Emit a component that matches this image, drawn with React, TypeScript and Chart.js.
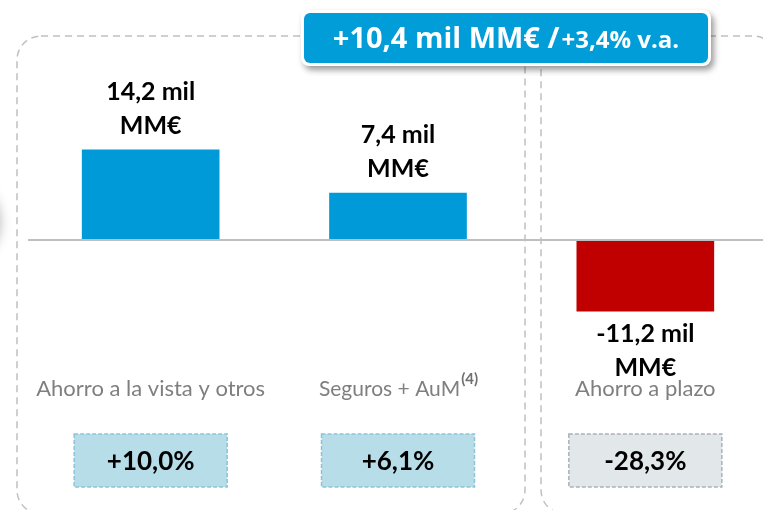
import React, { useEffect, useRef } from 'react';
import { Chart, registerables } from 'chart.js';
Chart.register(...registerables);

const categories = ['Ahorro a la vista y otros', 'Seguros + AuM', 'Ahorro a plazo'];
const footnotes = ['', '(4)', ''];
const values = [14.2, 7.4, -11.2];
const growth = ['+10,0%', '+6,1%', '-28,3%'];
const valueUnit = 'MM€';
const totalLabel = '+10,4 mil MM€ /';
const totalGrowth = '+3,4% v.a.';
const barColors = ['#009AD9', '#009AD9', '#C00000'];
const growthFill = ['#B6DDE8', '#B6DDE8', '#E2E7EA'];
const growthBorder = ['#8EC4D6', '#8EC4D6', '#A8B3BA'];

const FONT = 'Lato, "Open Sans", sans-serif';
const TFONT = '"Open Sans", Lato, sans-serif';

function rr(ctx: CanvasRenderingContext2D, x: number, y: number, w: number, h: number, r: number) {
  ctx.beginPath();
  ctx.moveTo(x + r, y);
  ctx.lineTo(x + w - r, y);
  ctx.arcTo(x + w, y, x + w, y + r, r);
  ctx.lineTo(x + w, y + h - r);
  ctx.arcTo(x + w, y + h, x + w - r, y + h, r);
  ctx.lineTo(x + r, y + h);
  ctx.arcTo(x, y + h, x, y + h - r, r);
  ctx.lineTo(x, y + r);
  ctx.arcTo(x, y, x + r, y, r);
  ctx.closePath();
}

const fmt = (v: number) => v.toFixed(1).replace('.', ',') + ' mil';

const deco = {
  id: 'deco',
  beforeDatasetsDraw(chart: any) {
    const ctx: CanvasRenderingContext2D = chart.ctx;
    ctx.save();
    // cut-off element on the left
    ctx.shadowColor = 'rgba(0,0,0,0.4)';
    ctx.shadowBlur = 14;
    ctx.fillStyle = '#ffffff';
    ctx.beginPath();
    ctx.arc(-42, 222, 40, 0, Math.PI * 2);
    ctx.fill();
    ctx.restore();

    ctx.save();
    ctx.strokeStyle = '#C0C0C0';
    ctx.lineWidth = 1.5;
    ctx.setLineDash([7, 5]);
    rr(ctx, 17, 36, 508, 478, 24);
    ctx.stroke();
    rr(ctx, 541, 36, 236, 478, 24);
    ctx.stroke();
    ctx.restore();
  },
  afterDatasetsDraw(chart: any) {
    const ctx: CanvasRenderingContext2D = chart.ctx;
    const x = chart.scales.x;
    const y = chart.scales.y;
    const area = chart.chartArea;
    const y0 = y.getPixelForValue(0);

    // zero line
    ctx.save();
    ctx.strokeStyle = '#BFBFBF';
    ctx.lineWidth = 2;
    ctx.beginPath();
    ctx.moveTo(area.left + 1, y0);
    ctx.lineTo(area.right, y0);
    ctx.stroke();
    ctx.restore();

    ctx.save();
    ctx.textAlign = 'center';
    ctx.textBaseline = 'middle';
    values.forEach((v, i) => {
      const cx = x.getPixelForValue(i);
      const yp = y.getPixelForValue(v);
      ctx.fillStyle = '#000000';
      ctx.font = `bold 25px ${FONT}`;
      if (v >= 0) {
        ctx.fillText(fmt(v), cx, yp - 58);
        ctx.fillText(valueUnit, cx, yp - 24);
      } else {
        ctx.fillText(fmt(v), cx, yp + 23);
        ctx.fillText(valueUnit, cx, yp + 57);
      }

      // category label
      ctx.font = `22px ${FONT}`;
      ctx.fillStyle = '#7F7F7F';
      const label = categories[i];
      const fn = footnotes[i];
      if (fn) {
        ctx.font = `21px ${FONT}`;
        const w1 = ctx.measureText(label).width;
        ctx.font = `bold 15px ${FONT}`;
        const w2 = ctx.measureText(fn).width;
        const start = cx - (w1 + w2) / 2;
        ctx.textAlign = 'left';
        ctx.font = `21px ${FONT}`;
        ctx.fillText(label, start, 389);
        ctx.font = `bold 15px ${FONT}`;
        ctx.fillStyle = '#6F6F6F';
        ctx.fillText(fn, start + w1 + 1, 379);
        ctx.textAlign = 'center';
      } else {
        ctx.fillText(label, cx, 389);
      }

      // growth box
      const bw = 153, bh = 53;
      const bx = cx - bw / 2, by = 434;
      ctx.fillStyle = growthFill[i];
      ctx.fillRect(bx, by, bw, bh);
      ctx.save();
      ctx.setLineDash([4, 2]);
      ctx.lineWidth = 1.5;
      ctx.strokeStyle = growthBorder[i];
      ctx.strokeRect(bx, by, bw, bh);
      ctx.restore();
      ctx.fillStyle = '#000000';
      ctx.font = `bold 26px ${FONT}`;
      ctx.fillText(growth[i], cx, by + bh / 2 + 1);
    });
    ctx.restore();

    // title box
    ctx.save();
    ctx.shadowColor = 'rgba(0,0,0,0.4)';
    ctx.shadowBlur = 6;
    ctx.shadowOffsetX = 3;
    ctx.shadowOffsetY = 4;
    ctx.fillStyle = '#ffffff';
    rr(ctx, 301, 10, 410, 56, 8);
    ctx.fill();
    ctx.restore();
    ctx.save();
    ctx.fillStyle = '#009DD9';
    rr(ctx, 304, 13, 404, 50, 6);
    ctx.fill();
    ctx.fillStyle = '#ffffff';
    ctx.textBaseline = 'alphabetic';
    ctx.textAlign = 'left';
    ctx.font = `bold 29px ${TFONT}`;
    const wA = ctx.measureText(totalLabel).width;
    ctx.font = `bold 24px ${TFONT}`;
    const wB = ctx.measureText(totalGrowth).width;
    const sx = 506 - (wA + wB + 2) / 2;
    ctx.font = `bold 29px ${TFONT}`;
    ctx.fillText(totalLabel, sx, 48);
    ctx.font = `bold 24px ${TFONT}`;
    ctx.fillText(totalGrowth, sx + wA + 2, 48);
    ctx.restore();
  },
};

export default function App() {
  const ref = useRef<HTMLCanvasElement | null>(null);
  useEffect(() => {
    if (!ref.current) return;
    const chart = new Chart(ref.current, {
      type: 'bar',
      data: {
        labels: categories,
        datasets: [
          {
            data: values,
            backgroundColor: barColors,
            barThickness: 137,
            borderWidth: 0,
          },
        ],
      },
      options: {
        animation: false,
        responsive: false,
        maintainAspectRatio: false,
        devicePixelRatio: 1,
        layout: { padding: { left: 27, right: 0, top: 0, bottom: 0 } },
        plugins: { legend: { display: false }, tooltip: { enabled: false } },
        scales: {
          x: { display: false, grid: { display: false } },
          y: { display: false, min: -42.52, max: 37.8, grid: { display: false } },
        },
      },
      plugins: [deco],
    });
    return () => chart.destroy();
  }, []);
  return (
    <div style={{ position: 'fixed', left: 0, top: 0, width: 763, height: 510, overflow: 'hidden', background: '#fff' }}>
      <canvas ref={ref} width={769} height={510} style={{ display: 'block', width: 769, height: 510 }} />
    </div>
  );
}
